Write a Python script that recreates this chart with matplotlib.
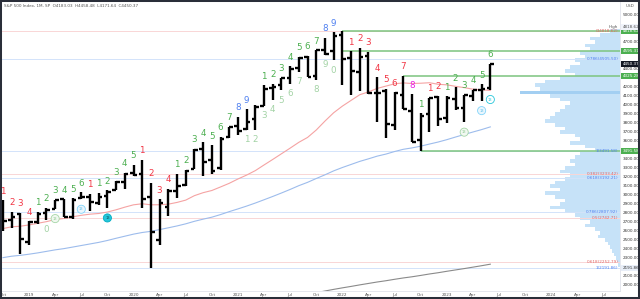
import numpy as np
import pandas as pd
import matplotlib
matplotlib.use('Agg')
import matplotlib.pyplot as plt
import matplotlib.transforms as mtransforms
from matplotlib.patches import Rectangle

plt.rcParams['font.family'] = ['DejaVu Sans']

# S&P 500 monthly bars, Oct 2018 .. Jun 2023
bar_open = [2926.29, 2717.58, 2790.50, 2476.96, 2702.32, 2798.22, 2848.63, 2952.33, 2751.53, 2971.41,
            2980.32, 2909.01, 2983.69, 3050.72, 3143.85, 3244.67, 3235.66, 2974.28, 2498.08, 2869.09,
            3038.78, 3105.92, 3288.26, 3507.44, 3385.87, 3296.20, 3645.87, 3764.61, 3731.17, 3842.51,
            3992.78, 4191.98, 4216.52, 4300.73, 4406.86, 4528.80, 4317.16, 4610.62, 4602.82, 4778.14,
            4519.57, 4363.14, 4540.32, 4130.61, 4149.78, 3781.00, 4112.38, 3936.73, 3609.78, 3901.79,
            4087.14, 3853.29, 4070.07, 3963.34, 4102.20, 4166.79, 4183.03]
bar_high = [2939.86, 2815.15, 2800.18, 2708.95, 2813.49, 2860.31, 2949.52, 2954.13, 2964.15, 3027.98,
            3013.59, 3021.99, 3050.10, 3154.26, 3247.93, 3337.77, 3393.52, 3136.72, 2954.86, 3068.67,
            3233.13, 3279.99, 3514.77, 3588.11, 3549.85, 3645.99, 3760.20, 3870.90, 3950.43, 3994.41,
            4218.78, 4238.04, 4302.43, 4429.97, 4537.36, 4545.85, 4608.08, 4743.83, 4808.93, 4818.62,
            4595.31, 4637.30, 4593.45, 4307.66, 4177.51, 4140.15, 4325.28, 4119.28, 3905.42, 4080.11,
            4100.96, 4094.21, 4195.44, 4110.75, 4170.06, 4231.10, 4458.48]
bar_low = [2603.54, 2631.09, 2346.58, 2443.96, 2681.83, 2722.27, 2848.63, 2750.52, 2728.81, 2952.22,
           2822.12, 2891.85, 2855.94, 3050.72, 3070.33, 3214.64, 2855.84, 2191.86, 2447.49, 2766.64,
           2965.66, 3101.17, 3284.53, 3209.45, 3233.94, 3279.74, 3633.40, 3662.71, 3725.62, 3723.34,
           3992.78, 4056.88, 4164.40, 4233.13, 4367.73, 4305.91, 4278.94, 4560.00, 4495.12, 4222.62,
           4114.65, 4157.87, 4124.28, 3810.32, 3636.87, 3721.56, 3954.53, 3584.13, 3491.58, 3698.15,
           3764.49, 3794.33, 3943.08, 3808.86, 4048.28, 4048.28, 4171.64]
bar_close = [2711.74, 2760.17, 2506.85, 2704.10, 2784.49, 2834.40, 2945.83, 2752.06, 2941.76, 2980.38,
             2926.46, 2976.74, 3037.56, 3140.98, 3230.78, 3225.52, 2954.22, 2584.59, 2912.43, 3044.31,
             3100.29, 3271.12, 3500.31, 3363.00, 3269.96, 3621.63, 3756.07, 3714.24, 3811.15, 3972.89,
             4181.17, 4204.11, 4297.50, 4395.26, 4522.68, 4307.54, 4605.38, 4567.00, 4766.18, 4515.55,
             4373.94, 4530.41, 4131.93, 4132.15, 3785.38, 4130.29, 3955.00, 3585.62, 3871.98, 4080.11,
             3839.50, 4076.60, 3970.15, 4109.31, 4169.48, 4179.83, 4450.37]

# closes Sep 2014 .. Sep 2018, only used to seed the moving averages
hist_close = [1972.29, 2018.05, 2067.56, 2058.90,
              1994.99, 2104.50, 2067.89, 2085.51, 2107.39, 2063.11, 2103.84, 1972.18, 1920.03, 2079.36, 2080.41, 2043.94,
              1940.24, 1932.23, 2059.74, 2065.30, 2096.95, 2098.86, 2173.60, 2170.95, 2168.27, 2126.15, 2198.81, 2238.83,
              2278.87, 2363.64, 2362.72, 2384.20, 2411.80, 2423.41, 2470.30, 2471.65, 2519.36, 2575.26, 2647.58, 2673.61,
              2823.81, 2713.83, 2640.87, 2648.05, 2705.27, 2718.37, 2816.29, 2901.52, 2913.98]

ma_long_start = 36
ma_long = [1915, 1933, 1951, 1968, 1984, 2001, 2017, 2033, 2047, 2063, 2078,
           2091, 2106, 2122, 2136, 2152, 2167, 2182, 2198, 2214, 2231]

# TD sequential counts: (bar index, text, colour key)
setup_counts = [(0, '1', 'r'), (1, '2', 'r'), (2, '3', 'r'), (3, '4', 'r'),
                (4, '1', 'g'), (5, '2', 'g'), (6, '3', 'g'), (7, '4', 'g'), (8, '5', 'g'), (9, '6', 'g'),
                (10, '1', 'r'), (11, '1', 'g'), (12, '2', 'g'), (13, '3', 'g'), (14, '4', 'g'), (15, '5', 'g'),
                (16, '1', 'r'), (17, '2', 'r'), (18, '3', 'r'), (19, '4', 'r'),
                (20, '1', 'g'), (21, '2', 'g'), (22, '3', 'g'), (23, '4', 'g'), (24, '5', 'g'), (25, '6', 'g'),
                (26, '7', 'g'), (27, '8', 'b'), (28, '9', 'b'),
                (30, '1', 'g'), (31, '2', 'g'), (32, '3', 'g'), (33, '4', 'g'), (34, '5', 'g'), (35, '6', 'g'),
                (36, '7', 'g'), (37, '8', 'b'), (38, '9', 'b'),
                (40, '1', 'r'), (41, '2', 'r'), (42, '3', 'r'), (43, '4', 'r'), (44, '5', 'r'), (45, '6', 'r'),
                (46, '7', 'r'), (47, '8', 'm'), (48, '1', 'g'), (49, '1', 'r'), (50, '2', 'r'),
                (51, '1', 'g'), (52, '2', 'g'), (53, '3', 'g'), (54, '4', 'g'), (55, '5', 'g'), (56, '6', 'g')]
countdown = [(5, '0'), (28, '1'), (29, '2'), (30, '3'), (31, '4'), (32, '5'), (33, '6'), (34, '7'),
             (36, '8'), (37, '9'), (38, '0')]
count13 = [(6, 'lg'), (9, 'lb'), (12, 'cf'), (53, 'lg'), (55, 'lb'), (56, 'cr')]

# horizontal levels
green_levels = [4818.62, 4595.31, 4325.28, 3491.58]
green_start = [39, 39, 46, 48]
fib_levels = [4818.62, 4505.50, 3491.58, 3233.42, 3192.21, 2807.92, 2742.71, 2252.79, 2191.86]
fib_names = ['0', '0.786', '1', '0.382', '0.618', '0.786', '0.5', '0.618', '1']
fib_cols = ['r', 'b', 'b', 'r', 'b', 'b', 'r', 'r', 'b']

# volume profile, 40 point rows from 2200 up to 4840
vp_low = 2200
vp_step = 40
vp_vol = [2, 3, 4, 6, 8, 10, 12, 15, 22, 20, 25, 35, 30, 40, 45, 55, 70, 60, 55, 65,
          75, 60, 70, 65, 55, 50, 60, 55, 45, 50, 45, 40, 25, 35, 50, 40, 45, 60, 55, 65,
          75, 70, 65, 60, 55, 50, 60, 70, 100, 80, 85, 75, 60, 45, 55, 50, 40, 45, 35, 40,
          30, 35, 25, 30, 20, 10]

colors = {'r': '#f23645', 'g': '#4caf50', 'b': '#4d7ff0', 'm': '#e91ee3'}
fib_colors = {'r': '#e06666', 'b': '#4d7ff0'}
fib_line_colors = {'r': '#f9d6d6', 'b': '#d3e3fa'}

W, H = 640, 299
fig = plt.figure(figsize=(W / 100, H / 100), dpi=100)
fig.patch.set_facecolor('white')
# dark screenshot frame
fig.patches.append(Rectangle((0, 0), 1, 1, transform=fig.transFigure, fill=False,
                             edgecolor='#2a2e39', lw=2.9, zorder=10))

ax = fig.add_axes([2 / W, 8 / H, 618 / W, 289 / H])
ax.set_facecolor('white')

x = np.arange(len(bar_close))
ax.set_xlim(-0.11, 70.9)
ax.set_ylim(1933, 5144)

# moving averages
closes = pd.Series(hist_close + bar_close)
n0 = len(hist_close)
ma20 = closes.rolling(20).mean().values[n0:]
ma50 = closes.rolling(50).mean().values[n0:]
ax.plot(x, ma20, color='#f5a3a3', lw=0.8, zorder=2)
ax.plot(x, ma50, color='#9dbcec', lw=0.8, zorder=2)
ax.plot(np.arange(ma_long_start, ma_long_start + len(ma_long)), ma_long, color='#8a8a8a', lw=0.8, zorder=2)

# fib lines + labels
trans = mtransforms.blended_transform_factory(ax.transAxes, ax.transData)
for lv, nm, c in zip(fib_levels, fib_names, fib_cols):
    ax.axhline(lv, color=fib_line_colors[c], lw=0.7, zorder=1)
    ax.text(0.997, lv, f'{nm}({lv:.2f})', transform=trans, ha='right', va='center',
            fontsize=3, color=fib_colors[c], zorder=6)

# green support / resistance lines
for lv, s in zip(green_levels, green_start):
    ax.hlines(lv, s, 70.9, color='#7cc47f', lw=1.1, zorder=3)

# volume profile
vp = ax.inset_axes([(520 - 2) / 618, 0, 100 / 618, 1], sharey=ax)
vp_edges = vp_low + vp_step * np.arange(len(vp_vol))
vp_cols = ['#a3cff2' if v == max(vp_vol) else '#c6e2f8' for v in vp_vol]
vp.barh(vp_edges, vp_vol, height=vp_step, align='edge', color=vp_cols, edgecolor='none')
vp.set_xlim(100, 0)
vp.patch.set_alpha(0)
vp.axis('off')
vp.set_zorder(0.5)

# OHLC bars
ax.vlines(x, bar_low, bar_high, color='black', lw=1.7, zorder=4)
ax.hlines(bar_open, x - 0.42, x, color='black', lw=1.7, zorder=4)
ax.hlines(bar_close, x, x + 0.42, color='black', lw=1.7, zorder=4)

# TD counts
for i, t, c in setup_counts:
    ax.annotate(t, (x[i], bar_high[i]), xytext=(0, 6.5), textcoords='offset points',
                ha='center', va='center', fontsize=6.3, color=colors[c], zorder=5)
for i, t in countdown:
    ax.annotate(t, (x[i], bar_low[i]), xytext=(0, -7.2), textcoords='offset points',
                ha='center', va='center', fontsize=6.3, color='#a3d3a5', zorder=5)
circ_style = {'lg': ('#f1f8f1', '#a5d6a7', '#8cc98f'),
              'lb': ('#eaf6fd', '#81d4fa', '#5fbfe8'),
              'cf': ('#26c6da', '#00acc1', '#0b4f5a'),
              'cr': ('white', '#26c6da', '#26c6da')}
for i, k in count13:
    fc, ec, tc = circ_style[k]
    ax.annotate('13', (x[i], bar_low[i]), xytext=(0, -7.2), textcoords='offset points',
                ha='center', va='center', fontsize=2.6, color=tc, zorder=5,
                bbox=dict(boxstyle='circle,pad=0.5', fc=fc, ec=ec, lw=0.6))

# right price scale
box_levels = [4818.62, 4595.31, 4450.37, 4325.28, 3491.58]
skip = [4900, 4800, 4600, 4500, 4300, 3500, 2200]
ticks = [p for p in range(2000, 5001, 100) if p not in skip]
ax.yaxis.tick_right()
ax.set_yticks(ticks)
ax.set_yticklabels([f'{p:.2f}' for p in ticks])
ax.tick_params(axis='y', length=0, labelsize=3, pad=2.2, labelcolor='#333333')
for lv in box_levels:
    fc = '#131722' if lv == bar_close[-1] else '#4caf50'
    ax.text(1.004, lv, f'{lv:.2f}', transform=trans, ha='left', va='center', fontsize=3,
            color='white', clip_on=False, zorder=7,
            bbox=dict(boxstyle='square,pad=0.25', fc=fc, ec='none'))
ax.text(1.004, 4870, '4818.62', transform=trans, ha='left', va='center', fontsize=3,
        color='#555555', clip_on=False, zorder=7,
        bbox=dict(boxstyle='square,pad=0.25', fc='#f0f3fa', ec='none'))
ax.text(0.997, 4870, 'High', transform=trans, ha='right', va='center', fontsize=3, color='#555555')
ax.text(1.004, 2191.86, '2191.86', transform=trans, ha='left', va='center', fontsize=3,
        color='#333333', clip_on=False, zorder=7,
        bbox=dict(boxstyle='square,pad=0.25', fc='#e8eef8', ec='none'))
fig.text(626 / W, 1 - 6 / H, 'USD', fontsize=3, color='#555555', va='center')

# time axis
months = pd.period_range('2018-10', periods=71, freq='M')
tpos = [k for k in range(0, 70, 3)]
tlab = [str(months[k].year) if months[k].month == 1 else months[k].strftime('%b') for k in tpos]
ax.set_xticks(tpos)
ax.set_xticklabels(tlab)
ax.tick_params(axis='x', length=0, labelsize=3, pad=1.5, labelcolor='#555555')

for s in ['top', 'left']:
    ax.spines[s].set_visible(False)
for s in ['right', 'bottom']:
    ax.spines[s].set_color('#e0e3eb')
    ax.spines[s].set_linewidth(0.6)

fig.text(4 / W, 1 - 6 / H, 'S&P 500 Index, 1M, SP  O4183.03  H4458.48  L4171.64  C4450.37',
         fontsize=3, color='#555555', va='center')

fig.savefig('out.png', dpi=100, facecolor=fig.get_facecolor())
